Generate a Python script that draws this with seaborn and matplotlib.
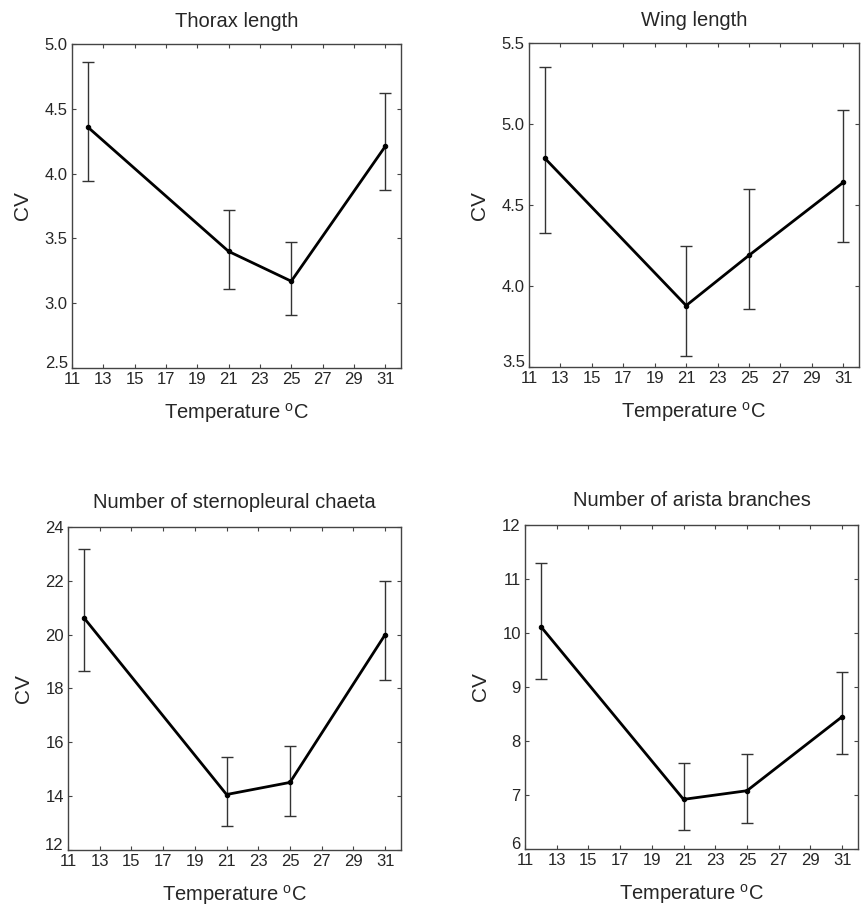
import numpy as np
import pandas as pd
import matplotlib
matplotlib.use("Agg")
import matplotlib.pyplot as plt
import seaborn as sns

sns.set_theme(style="white")
plt.rcParams['font.family'] = ['Liberation Sans', 'DejaVu Sans']
plt.rcParams['mathtext.fontset'] = 'custom'
plt.rcParams['mathtext.rm'] = 'Liberation Sans'

temps = [12, 21, 25, 31]

titles = ["Thorax length", "Wing length",
          "Number of sternopleural chaeta", "Number of arista branches"]

thorax_cv = [4.36, 3.40, 3.17, 4.21]
thorax_hi = [4.86, 3.72, 3.47, 4.62]
thorax_lo = [3.94, 3.11, 2.91, 3.87]

wing_cv = [4.79, 3.88, 4.19, 4.64]
wing_hi = [5.35, 4.25, 4.60, 5.09]
wing_lo = [4.33, 3.57, 3.86, 4.27]

chaeta_cv = [20.63, 14.06, 14.51, 20.00]
chaeta_hi = [23.18, 15.45, 15.88, 22.00]
chaeta_lo = [18.64, 12.89, 13.26, 18.32]

arista_cv = [10.12, 6.92, 7.08, 8.45]
arista_hi = [11.30, 7.59, 7.76, 9.28]
arista_lo = [9.15, 6.36, 6.49, 7.76]

xticks = [11, 13, 15, 17, 19, 21, 23, 25, 27, 29, 31]
yticks_list = [
    [2.5, 3.0, 3.5, 4.0, 4.5, 5.0],
    [3.5, 4.0, 4.5, 5.0, 5.5],
    [12, 14, 16, 18, 20, 22, 24],
    [6, 7, 8, 9, 10, 11, 12],
]
yfmt = ["{:.1f}", "{:.1f}", "{:d}", "{:d}"]

series = [
    (thorax_cv, thorax_lo, thorax_hi),
    (wing_cv, wing_lo, wing_hi),
    (chaeta_cv, chaeta_lo, chaeta_hi),
    (arista_cv, arista_lo, arista_hi),
]

positions = [
    [0.0833, 0.596, 0.3807, 0.3557],
    [0.6123, 0.597, 0.3819, 0.3557],
    [0.0787, 0.067, 0.3854, 0.3545],
    [0.6076, 0.068, 0.3854, 0.3557],
]
title_pads = [12, 12, 14, 14]

fig = plt.figure(figsize=(8.64, 9.11), dpi=100)
for i in range(4):
    ax = fig.add_axes(positions[i])
    cv, lo, hi = series[i]
    df = pd.DataFrame({"Temperature": temps, "CV": cv})
    cv_a = np.array(cv)
    yerr = np.vstack([cv_a - np.array(lo), np.array(hi) - cv_a])
    ax.errorbar(temps, cv, yerr=yerr, fmt='none', ecolor='#333333',
                elinewidth=1.0, capsize=4, capthick=1.0, zorder=2)
    sns.lineplot(data=df, x="Temperature", y="CV", ax=ax, color='black',
                 linewidth=2.0, marker='o', markersize=3.2,
                 markerfacecolor='black', markeredgecolor='black', zorder=3)
    yt = yticks_list[i]
    ax.set_xlim(11, 32)
    ax.set_ylim(yt[0], yt[-1])
    ax.set_xticks(xticks)
    ax.set_xticklabels([str(t) for t in xticks], fontsize=12)
    ax.set_yticks(yt)
    ylabels = ax.set_yticklabels([yfmt[i].format(v) for v in yt], fontsize=12)
    ylabels[0].set_verticalalignment('baseline')
    ax.tick_params(direction='in', length=3, width=0.8, color='#444444',
                   top=True, right=True, bottom=True, left=True)
    ax.tick_params(axis='x', pad=3)
    ax.tick_params(axis='y', pad=3)
    for s in ax.spines.values():
        s.set_color('#444444')
        s.set_linewidth(1.0)
    ax.set_title(titles[i], fontsize=14.5, pad=title_pads[i])
    ax.set_xlabel(r'Temperature $^{\mathrm{o}}$C', fontsize=14.5, labelpad=10)
    ax.set_ylabel('CV', fontsize=15, labelpad=9)

fig.savefig("out.png", dpi=100, facecolor='white')
